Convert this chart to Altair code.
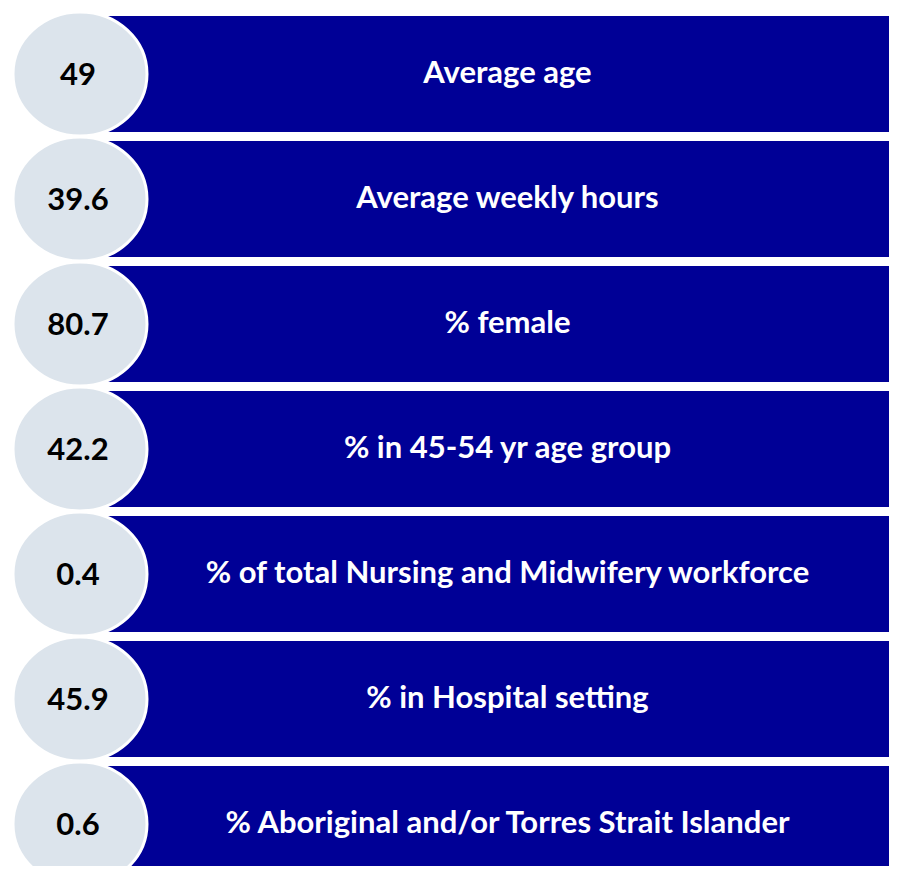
import altair as alt
import pandas as pd

labels = [
    "Average age",
    "Average weekly hours",
    "% female",
    "% in 45-54 yr age group",
    "% of total Nursing and Midwifery workforce",
    "% in Hospital setting",
    "% Aboriginal and/or Torres Strait Islander",
]
values = ["49", "39.6", "80.7", "42.2", "0.4", "45.9", "0.6"]

df = pd.DataFrame({"row": list(range(len(labels))), "label": labels, "value": values})

W, H = 881, 858
STEP = 125.0
TOP = 66.0
d0 = -TOP / STEP
d1 = d0 + H / STEP

yscale = alt.Scale(domain=[d0, d1], reverse=True, nice=False, zero=False)
FONT = "Lato"
NAVY = "#000096"
CIRCLE = "#dce4ec"

base = alt.Chart(df)

bars = base.mark_rect(color=NAVY, clip=True).transform_calculate(
    y0="datum.row - 0.464", y1="datum.row + 0.464"
).encode(
    x=alt.value(72),
    x2=alt.value(W),
    y=alt.Y("y0:Q", scale=yscale, axis=None),
    y2="y1:Q",
)

ellipse = "M -1 0 A 1 0.925 0 1 1 1 0 A 1 0.925 0 1 1 -1 0 Z"
circles = base.mark_point(
    shape=ellipse, filled=True, fill=CIRCLE, stroke="white", strokeWidth=3,
    opacity=1, size=134 * 134, clip=True,
).encode(
    x=alt.value(72),
    y=alt.Y("row:Q", scale=yscale, axis=None),
)

nums = base.mark_text(
    font=FONT, fontWeight="bold", fontSize=31, color="black",
    align="center", baseline="middle", dy=2,
).encode(
    x=alt.value(70),
    y=alt.Y("row:Q", scale=yscale, axis=None),
    text="value:N",
)

texts = base.mark_text(
    font=FONT, fontWeight="bold", fontSize=31, color="white",
    align="center", baseline="middle", dy=0,
).encode(
    x=alt.value(499.5),
    y=alt.Y("row:Q", scale=yscale, axis=None),
    text="label:N",
)

chart = alt.layer(bars, circles, nums, texts).properties(
    width=W, height=H, autosize=alt.AutoSizeParams(type="none"), padding=0,
    background="white",
).configure_view(stroke=None, strokeWidth=0)

chart.save("out.html", embed_options={"renderer": "svg", "actions": False})
